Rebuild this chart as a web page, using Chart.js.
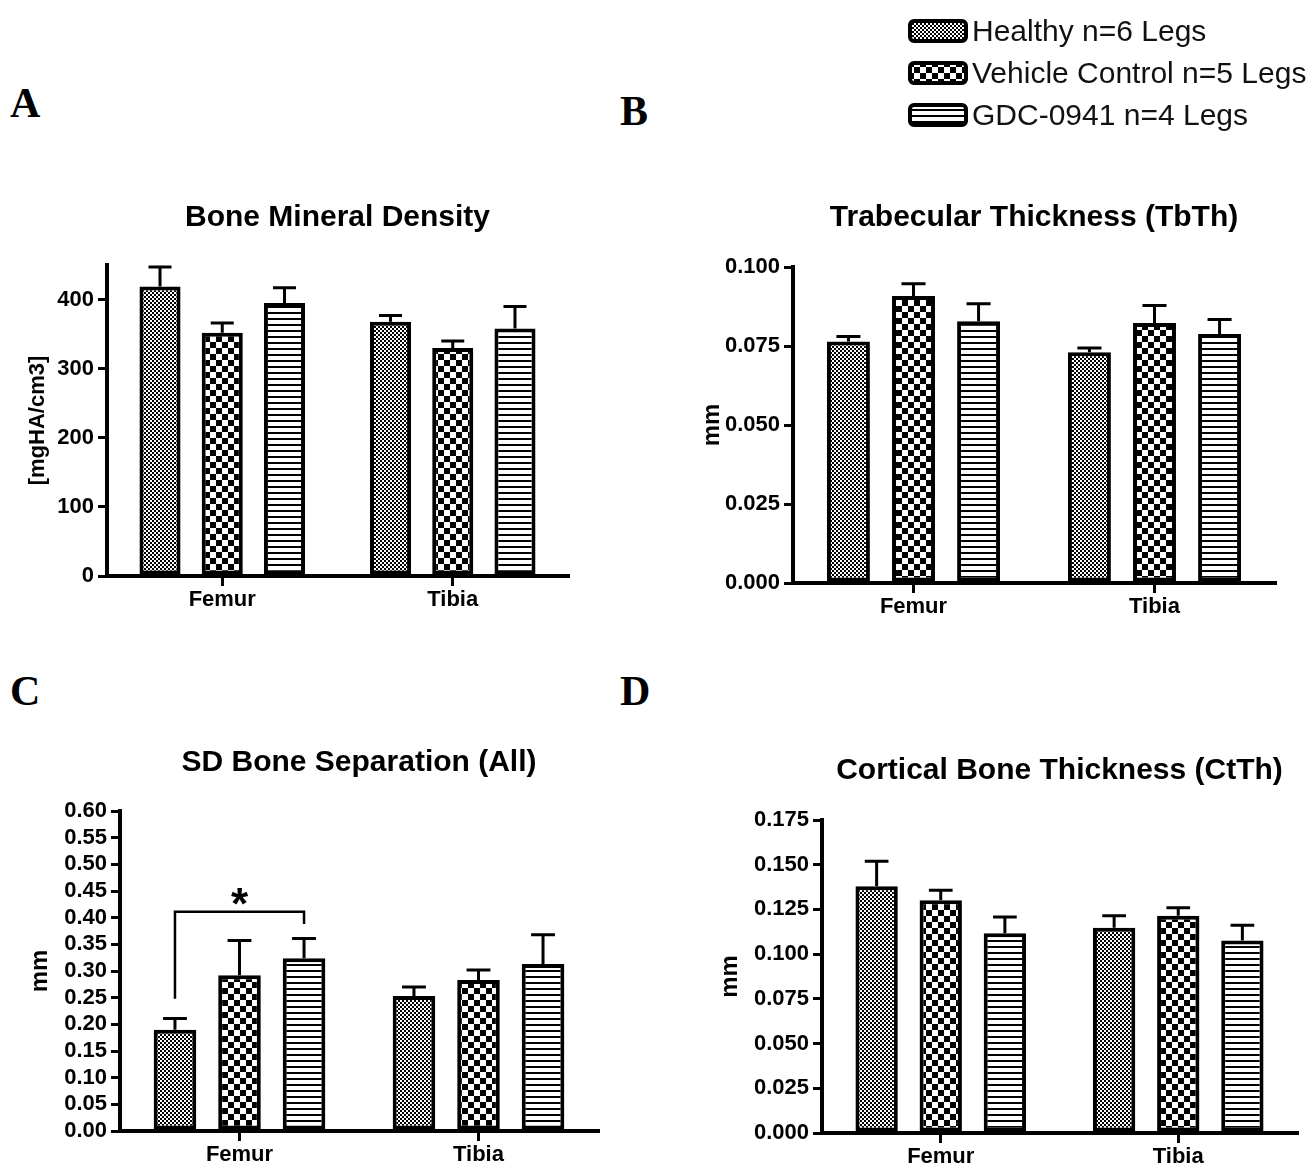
<!DOCTYPE html>
<html><head><meta charset="utf-8">
<script src="https://cdn.jsdelivr.net/npm/chart.js@4.4.1/dist/chart.umd.min.js"></script>
<style>
html,body{margin:0;padding:0;background:#fff;}
body{width:1309px;height:1166px;overflow:hidden;position:relative;font-family:'Liberation Sans',Arial,sans-serif;}
canvas.chart{position:absolute;}
.letter{position:absolute;font-family:'Liberation Serif','Times New Roman',serif;font-weight:bold;font-size:42px;line-height:42px;color:#000;}
#legend{position:absolute;left:908px;top:10px;}
.row{display:flex;align-items:center;height:42px;}
.row canvas{margin-right:4px;}
.row span{font-size:30px;color:#111;white-space:nowrap;}
</style></head><body>
<div class="letter" style="left:10px;top:82px">A</div>
<div class="letter" style="left:620px;top:90px">B</div>
<div class="letter" style="left:10px;top:670px">C</div>
<div class="letter" style="left:620px;top:670px">D</div>
<div id="legend"></div>
<canvas class="chart" id="cA" width="650" height="440" style="left:0px;top:180px"></canvas>
<canvas class="chart" id="cB" width="659" height="460" style="left:650px;top:180px"></canvas>
<canvas class="chart" id="cC" width="650" height="436" style="left:0px;top:730px"></canvas>
<canvas class="chart" id="cD" width="659" height="436" style="left:650px;top:730px"></canvas>
<script>
// ---------- data ----------
const categories = ['Femur', 'Tibia'];
const seriesLabels = ['Healthy n=6 Legs', 'Vehicle Control n=5 Legs', 'GDC-0941 n=4 Legs'];

// A: Bone Mineral Density [mgHA/cm3]
const bmdHealthy = [419, 368];
const bmdVehicle = [352, 330];
const bmdGdc = [395, 358];
const bmdHealthyErr = [28, 9];
const bmdVehicleErr = [14, 10];
const bmdGdcErr = [22, 32];
const bmdTicks = [0, 100, 200, 300, 400];

// B: Trabecular Thickness (TbTh) mm
const tbthHealthy = [0.0764, 0.0730];
const tbthVehicle = [0.0908, 0.0823];
const tbthGdc = [0.0828, 0.0788];
const tbthHealthyErr = [0.0016, 0.0014];
const tbthVehicleErr = [0.0039, 0.0055];
const tbthGdcErr = [0.0056, 0.0046];
const tbthTicks = [0, 0.025, 0.05, 0.075, 0.1];

// C: SD Bone Separation (All) mm
const sepHealthy = [0.190, 0.253];
const sepVehicle = [0.292, 0.283];
const sepGdc = [0.324, 0.313];
const sepHealthyErr = [0.021, 0.017];
const sepVehicleErr = [0.065, 0.019];
const sepGdcErr = [0.037, 0.055];
const sepTicks = [0, 0.05, 0.10, 0.15, 0.20, 0.25, 0.30, 0.35, 0.40, 0.45, 0.50, 0.55, 0.60];
// significance bracket: Femur, Healthy vs GDC-0941
const sigCategory = 0;
const sigSeries = [0, 2];
const sigLegBase = [0.248, 0.388];
const sigTop = 0.411;
const sigStarY = 0.443;
const sigLabel = '*';

// D: Cortical Bone Thickness (CtTh) mm
const ctthHealthy = [0.1379, 0.1147];
const ctthVehicle = [0.1301, 0.1215];
const ctthGdc = [0.1117, 0.1076];
const ctthHealthyErr = [0.0141, 0.0068];
const ctthVehicleErr = [0.0056, 0.0045];
const ctthGdcErr = [0.0090, 0.0086];
const ctthTicks = [0, 0.025, 0.05, 0.075, 0.1, 0.125, 0.15, 0.175];

// ---------- patterns ----------
function makePatterns(ctx) {
  const t1 = document.createElement('canvas'); t1.width = 4; t1.height = 4;
  let c = t1.getContext('2d'); c.fillStyle = '#fff'; c.fillRect(0,0,4,4);
  c.fillStyle = '#000'; c.fillRect(0,0,2,2); c.fillRect(2,2,2,2);
  const t2 = document.createElement('canvas'); t2.width = 12; t2.height = 12;
  c = t2.getContext('2d'); c.fillStyle = '#fff'; c.fillRect(0,0,12,12);
  c.fillStyle = '#000'; c.fillRect(0,0,6,6); c.fillRect(6,6,6,6);
  const t3 = document.createElement('canvas'); t3.width = 6; t3.height = 6;
  c = t3.getContext('2d'); c.fillStyle = '#fff'; c.fillRect(0,0,6,6);
  c.fillStyle = '#000'; c.fillRect(0,0,6,2);
  return [ctx.createPattern(t1,'repeat'), ctx.createPattern(t2,'repeat'), ctx.createPattern(t3,'repeat')];
}

// ---------- plugins ----------
const errorBarPlugin = {
  id: 'errorBars',
  afterDatasetsDraw(chart) {
    const {ctx} = chart; const y = chart.scales.y;
    ctx.save();
    ctx.strokeStyle = '#000'; ctx.lineWidth = 3; ctx.lineCap = 'butt';
    chart.data.datasets.forEach((ds, i) => {
      chart.getDatasetMeta(i).data.forEach((bar, j) => {
        const top = y.getPixelForValue(ds.data[j] + ds.errors[j]);
        const half = bar.width * 0.28;
        ctx.beginPath();
        ctx.moveTo(bar.x, bar.y); ctx.lineTo(bar.x, top);
        ctx.moveTo(bar.x - half, top); ctx.lineTo(bar.x + half, top);
        ctx.stroke();
      });
    });
    ctx.restore();
  }
};
const bracketPlugin = {
  id: 'sigBracket',
  afterDatasetsDraw(chart) {
    const {ctx} = chart; const y = chart.scales.y;
    const x1 = chart.getDatasetMeta(sigSeries[0]).data[sigCategory].x;
    const x2 = chart.getDatasetMeta(sigSeries[1]).data[sigCategory].x;
    const yt = y.getPixelForValue(sigTop);
    ctx.save();
    ctx.strokeStyle = '#000'; ctx.lineWidth = 2.5;
    ctx.beginPath();
    ctx.moveTo(x1, y.getPixelForValue(sigLegBase[0]));
    ctx.lineTo(x1, yt); ctx.lineTo(x2, yt);
    ctx.lineTo(x2, y.getPixelForValue(sigLegBase[1]));
    ctx.stroke();
    const fs = 44;
    ctx.font = 'bold ' + fs + 'px "Liberation Sans", Arial, sans-serif';
    ctx.fillStyle = '#000'; ctx.textAlign = 'center'; ctx.textBaseline = 'alphabetic';
    ctx.fillText(sigLabel, (x1 + x2) / 2, y.getPixelForValue(sigStarY) + 0.56 * fs);
    ctx.restore();
  }
};

Chart.defaults.font.family = "'Liberation Sans', Arial, sans-serif";
Chart.defaults.color = '#000';

function makeChart(id, cfg) {
  const canvas = document.getElementById(id);
  const ctx = canvas.getContext('2d');
  const pats = makePatterns(ctx);
  const datasets = cfg.values.map((vals, i) => ({
    label: seriesLabels[i],
    data: vals,
    errors: cfg.errors[i],
    backgroundColor: pats[i],
    borderColor: '#000',
    borderWidth: 4,
    borderSkipped: false,
    barPercentage: 0.66,
    categoryPercentage: 0.81
  }));
  return new Chart(ctx, {
    type: 'bar',
    data: { labels: categories, datasets },
    options: {
      responsive: false, animation: false, devicePixelRatio: 1,
      layout: { padding: { left: 0, right: cfg.padR, top: 0, bottom: cfg.padB } },
      plugins: {
        legend: { display: false }, tooltip: { enabled: false },
        title: { display: true, text: cfg.title, fullSize: false, color: '#000',
          font: { size: 30, weight: 'bold' }, padding: { top: cfg.tTop, bottom: cfg.tBot } }
      },
      scales: {
        x: {
          type: 'category', offset: true,
          grid: { display: true, drawOnChartArea: false, drawTicks: true, tickLength: 10, offset: false, color: '#000', lineWidth: 3 },
          border: { display: true, color: '#000', width: 4 },
          ticks: { font: { size: 22, weight: 'bold' }, color: '#000', padding: 1, maxRotation: 0 },
          afterFit: s => { s.height = cfg.xH; }
        },
        y: {
          min: 0, max: cfg.max,
          afterBuildTicks: s => { s.ticks = cfg.ticks.map(v => ({ value: v })); },
          grid: { display: true, drawOnChartArea: false, drawTicks: true, tickLength: 9, color: '#000', lineWidth: 3 },
          border: { display: true, color: '#000', width: 4 },
          ticks: { font: { size: 22, weight: 'bold' }, color: '#000', padding: 4, autoSkip: false,
            callback: v => Number(v).toFixed(cfg.dec) },
          title: { display: true, text: cfg.yTitle, color: '#000', font: { size: cfg.yTitleSize, weight: 'bold' }, padding: { top: cfg.yTP, bottom: 0 } },
          afterFit: s => { s.width = cfg.yW; }
        }
      }
    },
    plugins: [errorBarPlugin].concat(cfg.extra || [])
  });
}

makeChart('cA', {
  title: 'Bone Mineral Density', yTitle: '[mgHA/cm3]', yTitleSize: 22, yTP: 24.8,
  values: [bmdHealthy, bmdVehicle, bmdGdc], errors: [bmdHealthyErr, bmdVehicleErr, bmdGdcErr],
  ticks: bmdTicks, max: 450, dec: 0,
  yW: 107, padR: 82, padB: 0, xH: 44, tTop: 20, tBot: 29
});
makeChart('cB', {
  title: 'Trabecular Thickness (TbTh)', yTitle: 'mm', yTitleSize: 24, yTP: 47.6,
  values: [tbthHealthy, tbthVehicle, tbthGdc], errors: [tbthHealthyErr, tbthVehicleErr, tbthGdcErr],
  ticks: tbthTicks, max: 0.1, dec: 3,
  yW: 143, padR: 34, padB: 12, xH: 45, tTop: 20, tBot: 31
});
makeChart('cC', {
  title: 'SD Bone Separation (All)', yTitle: 'mm', yTitleSize: 24, yTP: 25.6,
  values: [sepHealthy, sepVehicle, sepGdc], errors: [sepHealthyErr, sepVehicleErr, sepGdcErr],
  ticks: sepTicks, max: 0.6, dec: 2,
  yW: 120, padR: 52, padB: 0, xH: 35, tTop: 15, tBot: 30, extra: [bracketPlugin]
});
makeChart('cD', {
  title: 'Cortical Bone Thickness (CtTh)', yTitle: 'mm', yTitleSize: 24, yTP: 65.6,
  values: [ctthHealthy, ctthVehicle, ctthGdc], errors: [ctthHealthyErr, ctthVehicleErr, ctthGdcErr],
  ticks: ctthTicks, max: 0.175, dec: 3,
  yW: 172, padR: 12, padB: 0, xH: 33, tTop: 23, tBot: 31
});

// ---------- legend ----------
(function buildLegend() {
  const legend = document.getElementById('legend');
  seriesLabels.forEach((lab, i) => {
    const row = document.createElement('div'); row.className = 'row';
    const sw = document.createElement('canvas'); sw.width = 60; sw.height = 24;
    const c = sw.getContext('2d');
    const pats = makePatterns(c);
    c.fillStyle = pats[i];
    c.beginPath(); c.roundRect(2, 2, 56, 20, 4); c.fill();
    c.lineWidth = 4; c.strokeStyle = '#000'; c.stroke();
    const sp = document.createElement('span'); sp.textContent = lab;
    row.appendChild(sw); row.appendChild(sp);
    legend.appendChild(row);
  });
})();
</script>
</body></html>
